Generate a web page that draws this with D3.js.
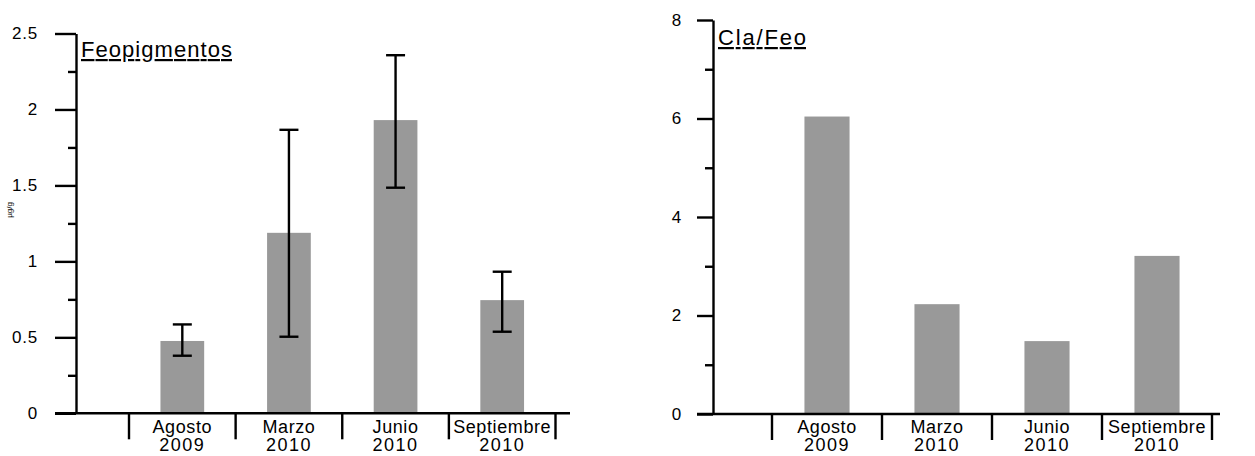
<!DOCTYPE html>
<html>
<head>
<meta charset="utf-8">
<script src="https://cdn.jsdelivr.net/npm/d3@7"></script>
<style>
  html, body { margin: 0; padding: 0; background: #fff; }
  svg { display: block; font-family: "Liberation Sans", Arial, sans-serif; }
</style>
</head>
<body>
<svg id="chart" width="1255" height="456"></svg>
<script>
// Sampling dates (two lines per label)
const months = ["Agosto", "Marzo", "Junio", "Septiembre"];
const years = ["2009", "2010", "2010", "2010"];

// Feopigments: mean and error range
const feoMean = [0.476, 1.188, 1.93, 0.745];
const feoLow = [0.379, 0.504, 1.485, 0.537];
const feoHigh = [0.585, 1.866, 2.357, 0.932];
const feoTicks = [0, 0.5, 1, 1.5, 2, 2.5];
const feoMinor = [0.25, 0.75, 1.25, 1.75, 2.25];

// Chlorophyll a / feopigments ratio
const claFeo = [6.04, 2.23, 1.48, 3.21];
const ratioTicks = [0, 2, 4, 6, 8];
const ratioMinor = [1, 3, 5, 7];

const svg = d3.select("#chart");
const BAR = "#999999";

function panel(opt) {
  const g = svg.append("g");
  const y = d3.scaleLinear().domain(opt.yDomain).range([opt.y0, opt.y1]);
  const x = d3.scaleBand().domain(months).range(opt.xRange).padding(0);
  const barW = x.bandwidth() * 0.41;

  // bars
  g.selectAll("rect.bar").data(opt.values).join("rect")
    .attr("class", "bar")
    .attr("x", (d, i) => x(months[i]) + (x.bandwidth() - barW) / 2)
    .attr("width", barW)
    .attr("y", d => y(d))
    .attr("height", d => y(0) - y(d))
    .attr("fill", BAR);

  // error bars
  if (opt.low) {
    const cx = i => x(months[i]) + x.bandwidth() / 2;
    const eb = g.append("g").attr("stroke", "#000").attr("stroke-width", 2.4);
    opt.low.forEach((lo, i) => {
      const hi = opt.high[i];
      eb.append("line").attr("x1", cx(i)).attr("x2", cx(i)).attr("y1", y(lo)).attr("y2", y(hi));
      eb.append("line").attr("x1", cx(i) - 9.5).attr("x2", cx(i) + 9.5).attr("y1", y(lo)).attr("y2", y(lo));
      eb.append("line").attr("x1", cx(i) - 9.5).attr("x2", cx(i) + 9.5).attr("y1", y(hi)).attr("y2", y(hi));
    });
  }

  // y axis: major ticks with labels
  const yAxis = g.append("g").attr("transform", `translate(${opt.axisX},0)`)
    .call(d3.axisLeft(y).tickValues(opt.ticks).tickSize(opt.majorLen)
      .tickPadding(opt.labelGap).tickFormat(d3.format("")).tickSizeOuter(0));
  yAxis.select(".domain").attr("stroke-width", 2.4);
  yAxis.selectAll(".tick line").attr("stroke-width", 2.4);
  yAxis.selectAll(".tick text").attr("font-size", opt.tickFont).attr("fill", "#000")
    .attr("letter-spacing", "0.8px");

  // minor ticks
  const minor = g.append("g").attr("transform", `translate(${opt.axisX},0)`)
    .call(d3.axisLeft(y).tickValues(opt.minor).tickSize(8).tickFormat("").tickSizeOuter(0));
  minor.select(".domain").remove();
  minor.selectAll(".tick line").attr("stroke-width", 2.4);

  // x axis line
  g.append("line")
    .attr("x1", opt.axisX - opt.majorLen).attr("x2", opt.xEnd)
    .attr("y1", y(0)).attr("y2", y(0))
    .attr("stroke", "#000").attr("stroke-width", 2.4);

  // category separators below the axis
  const bounds = months.map(m => x(m)).concat([x.range()[1]]);
  g.selectAll("line.sep").data(bounds).join("line")
    .attr("class", "sep")
    .attr("x1", d => d).attr("x2", d => d)
    .attr("y1", y(0)).attr("y2", y(0) + 26)
    .attr("stroke", "#000").attr("stroke-width", 2.4);

  // category labels
  const lab = g.selectAll("text.cat").data(months).join("text")
    .attr("class", "cat")
    .attr("text-anchor", "middle")
    .attr("font-size", 18)
    .attr("letter-spacing", "0.6px")
    .attr("fill", "#000");
  lab.append("tspan")
    .attr("x", d => x(d) + x.bandwidth() / 2)
    .attr("y", opt.labelY)
    .text(d => d);
  lab.append("tspan")
    .attr("x", d => x(d) + x.bandwidth() / 2)
    .attr("dy", 18)
    .attr("letter-spacing", "1.5px")
    .text((d, i) => years[i]);

  // underlined panel title
  g.append("text")
    .attr("x", opt.axisX + 5)
    .attr("y", opt.titleY)
    .attr("font-size", 22)
    .attr("text-decoration", "underline")
    .attr("textLength", opt.titleW)
    .attr("lengthAdjust", "spacing")
    .attr("fill", "#000")
    .text(opt.title);

  return g;
}

panel({
  values: feoMean, low: feoLow, high: feoHigh,
  yDomain: [0, 2.5], y0: 413.3, y1: 33.5,
  xRange: [129, 555.5], xEnd: 570,
  axisX: 76, majorLen: 21, labelGap: 17, tickFont: 17,
  ticks: feoTicks, minor: feoMinor,
  labelY: 433, title: "Feopigmentos", titleY: 57, titleW: 151
});

panel({
  values: claFeo,
  yDomain: [0, 8], y0: 414, y1: 20,
  xRange: [772, 1212], xEnd: 1220,
  axisX: 713, majorLen: 16, labelGap: 15, tickFont: 17,
  ticks: ratioTicks, minor: ratioMinor,
  labelY: 433, title: "Cla/Feo", titleY: 45, titleW: 88
});

// tiny rotated unit label beside the left axis
svg.append("text")
  .attr("transform", "translate(12,210) rotate(-90)")
  .attr("text-anchor", "middle")
  .attr("font-size", 8)
  .attr("fill", "#000")
  .text("µg/g");
</script>
</body>
</html>
